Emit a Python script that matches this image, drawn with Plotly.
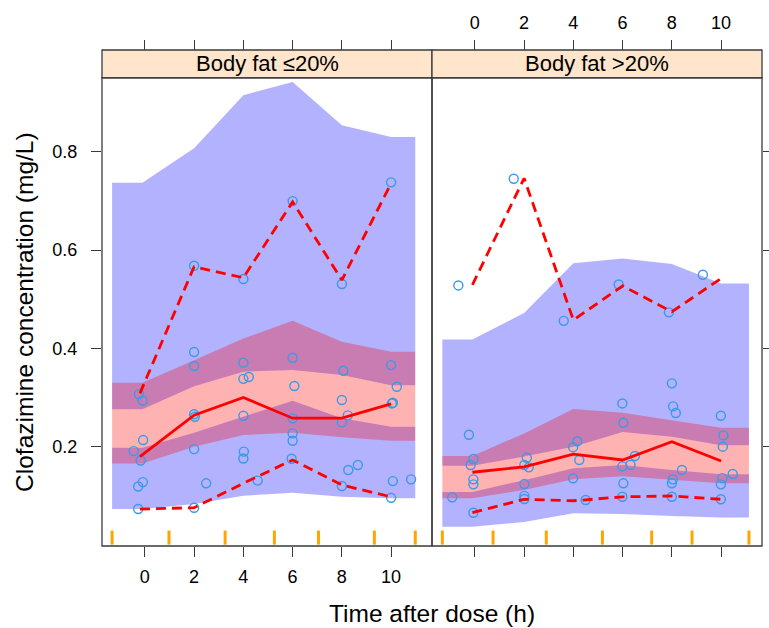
import plotly.graph_objects as go

# ---------------- data ----------------
panels = ["Body fat ≤20%", "Body fat >20%"]
x_ticks = [0, 2, 4, 6, 8, 10]
y_ticks = [0.2, 0.4, 0.6, 0.8]

# bin midpoints (band vertices) and bin edges (rug marks)
bin_mid = [-0.1, 2, 4, 6, 8, 10]
lean_edges = [-1.33, 0.98, 3.26, 5.26, 7.05, 9.32, 10.98]
fat_edges = [-1.32, 0.74, 2.90, 5.18, 7.18, 8.82, 11.13]

# simulated percentile confidence intervals, body fat <=20%
lean_p95_hi = [0.737, 0.807, 0.915, 0.942, 0.854, 0.830]
lean_p95_lo = [0.276, 0.323, 0.3525, 0.356, 0.346, 0.325]
lean_p50_hi = [0.330, 0.376, 0.420, 0.456, 0.4135, 0.393]
lean_p50_lo = [0.166, 0.200, 0.2237, 0.2284, 0.219, 0.212]
lean_p05_hi = [0.198, 0.2284, 0.261, 0.2935, 0.2577, 0.2406]
lean_p05_lo = [0.0732, 0.0834, 0.1003, 0.1064, 0.0983, 0.095]

# simulated percentile confidence intervals, body fat >20%
fat_p95_hi = [0.418, 0.472, 0.573, 0.583, 0.5715, 0.532]
fat_p95_lo = [0.161, 0.180, 0.200, 0.230, 0.220, 0.203]
fat_p50_hi = [0.181, 0.227, 0.2766, 0.269, 0.254, 0.2386]
fat_p50_lo = [0.095, 0.112, 0.134, 0.140, 0.132, 0.1255]
fat_p05_hi = [0.108, 0.132, 0.156, 0.163, 0.1525, 0.144]
fat_p05_lo = [0.037, 0.047, 0.0645, 0.063, 0.059, 0.056]

# observed percentiles
obs_t_lean = [-0.2, 2, 4, 6, 8, 10]
lean_obs_p95 = [0.3085, 0.566, 0.5437, 0.698, 0.539, 0.7356]
lean_obs_p50 = [0.180, 0.264, 0.300, 0.258, 0.258, 0.287]
lean_obs_p05 = [0.0732, 0.0759, 0.1255, 0.173, 0.122, 0.098]
obs_t_fat = [-0.1, 2, 4, 6, 8, 10]
fat_obs_p95 = [0.529, 0.746, 0.4576, 0.527, 0.4745, 0.5424]
fat_obs_p50 = [0.148, 0.159, 0.185, 0.173, 0.210, 0.171]
fat_obs_p05 = [0.0657, 0.093, 0.090, 0.098, 0.0997, 0.093]

# observed concentrations
lean_time = [-0.24, -0.09, -0.07, -0.45, -0.17, -0.27, -0.08, -0.27,
             2.0, 2.0, 2.0, 2.03, 2.0, 2.49, 2.0, 2.0,
             4.0, 4.0, 4.22, 4.0, 4.02, 4.0, 4.58, 4.0,
             6.0, 6.07, 6.0, 6.0, 6.0, 5.96, 6.0,
             8.06, 8.0, 8.24, 8.0, 8.26, 8.65, 8.0, 8.0,
             10.0, 10.23, 10.03, 10.07, 10.07, 10.0, 10.81, 10.0]
lean_conc = [0.307, 0.294, 0.2135, 0.191, 0.172, 0.119, 0.128, 0.0732,
             0.3925, 0.364, 0.266, 0.261, 0.195, 0.1255, 0.0759, 0.568,
             0.371, 0.338, 0.3417, 0.263, 0.19, 0.176, 0.131, 0.541,
             0.381, 0.3234, 0.2577, 0.227, 0.212, 0.1755, 0.6996,
             0.3545, 0.295, 0.2638, 0.2495, 0.1525, 0.1627, 0.12, 0.531,
             0.366, 0.322, 0.288, 0.2894, 0.130, 0.096, 0.1336, 0.7377]
fat_time = [-0.24, -0.06, -0.17, -0.06, -0.06, -0.92, -0.06, -0.67,
            2.11, 2.01, 2.19, 2.01, 2.01, 2.01, 1.58,
            4.5, 3.99, 4.16, 4.24, 3.99, 3.61,
            5.99, 6.03, 6.5, 6.32, 5.99, 6.03, 5.99, 5.84,
            8.0, 8.05, 8.16, 8.41, 8.04, 8.0, 8.0, 7.88,
            9.99, 10.09, 10.07, 10.05, 9.99, 10.47, 9.99, 9.26]
fat_conc = [0.2243, 0.175, 0.1627, 0.1336, 0.1234, 0.097, 0.0657, 0.528,
            0.1775, 0.1627, 0.158, 0.124, 0.100, 0.0936, 0.745,
            0.0915, 0.199, 0.211, 0.173, 0.1357, 0.456,
            0.288, 0.2487, 0.181, 0.1633, 0.160, 0.1255, 0.0982, 0.530,
            0.3289, 0.282, 0.2685, 0.1525, 0.1336, 0.1255, 0.0982, 0.4733,
            0.263, 0.223, 0.200, 0.136, 0.1234, 0.1444, 0.093, 0.5497]

# ---------------- styling ----------------
FONT = "Liberation Sans, Arial, sans-serif"
BLUE_FILL = "rgba(0,0,255,0.3)"
RED_FILL = "rgba(255,0,0,0.3)"
PT_COL = "#3A9AE8"
FRAME = "#3a3a3a"
X_RANGE = [-1.74, 11.66]
Y_RANGE = [-0.002, 0.9504]
Y_TOP = 0.944

fig = go.Figure()


def band(edges, lo, hi, color, xa, ya):
    bx = [edges[0]] + bin_mid + [edges[-1]]
    up = [hi[0]] + hi + [hi[-1]]
    dn = [lo[0]] + lo + [lo[-1]]
    fig.add_trace(go.Scatter(x=bx + bx[::-1], y=up + dn[::-1], fill="toself",
                             fillcolor=color, mode="lines", line=dict(width=0),
                             hoverinfo="skip", showlegend=False, xaxis=xa, yaxis=ya))


panel_data = [
    ("x", "y", lean_edges, (lean_p05_lo, lean_p05_hi), (lean_p95_lo, lean_p95_hi),
     (lean_p50_lo, lean_p50_hi), lean_time, lean_conc, obs_t_lean,
     (lean_obs_p05, lean_obs_p50, lean_obs_p95)),
    ("x2", "y2", fat_edges, (fat_p05_lo, fat_p05_hi), (fat_p95_lo, fat_p95_hi),
     (fat_p50_lo, fat_p50_hi), fat_time, fat_conc, obs_t_fat,
     (fat_obs_p05, fat_obs_p50, fat_obs_p95)),
]

for xa, ya, edges, p05, p95, p50, tt, cc, ot, obs in panel_data:
    band(edges, p05[0], p05[1], BLUE_FILL, xa, ya)
    band(edges, p95[0], p95[1], BLUE_FILL, xa, ya)
    band(edges, p50[0], p50[1], RED_FILL, xa, ya)
    fig.add_trace(go.Scatter(x=tt, y=cc, mode="markers",
                             marker=dict(symbol="circle-open", size=9, color=PT_COL,
                                         line=dict(width=1.4, color=PT_COL)),
                             showlegend=False, xaxis=xa, yaxis=ya))
    fig.add_trace(go.Scatter(x=ot, y=obs[1], mode="lines",
                             line=dict(color="#FF0000", width=2.8),
                             showlegend=False, xaxis=xa, yaxis=ya))
    for o in (obs[0], obs[2]):
        fig.add_trace(go.Scatter(x=ot, y=o, mode="lines",
                                 line=dict(color="#FF0000", width=2.8, dash="10px,6px"),
                                 showlegend=False, xaxis=xa, yaxis=ya))
    for e in edges:
        fig.add_shape(type="line", xref=xa, yref=ya + " domain", x0=e, x1=e,
                      y0=0.003, y1=0.033, line=dict(color="#FFA500", width=3))

# invisible traces so that the top tick axes are drawn
for xa, ya in [("x3", "y"), ("x4", "y2")]:
    fig.add_trace(go.Scatter(x=[None], y=[None], mode="markers", xaxis=xa, yaxis=ya,
                             showlegend=False, hoverinfo="skip"))

# frames and strips
for i, (xa, ya) in enumerate([("x", "y"), ("x2", "y2")]):
    fig.add_shape(type="rect", xref=xa + " domain", yref=ya + " domain",
                  x0=0, x1=1, y0=0, y1=1, line=dict(color=FRAME, width=1.3),
                  fillcolor="rgba(0,0,0,0)")
    x0 = 0.5 * i
    fig.add_shape(type="rect", xref="paper", yref="paper", x0=x0, x1=x0 + 0.5,
                  y0=Y_TOP, y1=1.0, line=dict(color=FRAME, width=1.3),
                  fillcolor="#FFE5CC", layer="below")
    fig.add_annotation(text=panels[i], xref="paper", yref="paper",
                       x=x0 + 0.25, y=(Y_TOP + 1.0) / 2, showarrow=False,
                       xanchor="center", yanchor="middle",
                       font=dict(family=FONT, size=22, color="black"))

tick_font = dict(family=FONT, size=18, color="black")
common_x = dict(range=X_RANGE, tickvals=x_ticks, ticktext=[str(v) for v in x_ticks],
                ticks="outside", ticklen=10, tickwidth=1.3, tickcolor=FRAME,
                showgrid=False, zeroline=False, tickfont=tick_font, automargin=False)
common_y = dict(range=Y_RANGE, tickvals=y_ticks, ticktext=[str(v) for v in y_ticks],
                ticks="outside", ticklen=10, tickwidth=1.3, tickcolor=FRAME,
                showgrid=False, zeroline=False, tickfont=tick_font, domain=[0, Y_TOP],
                automargin=False)

fig.update_layout(
    width=769, height=628,
    margin=dict(l=102, r=7, t=50, b=82, autoexpand=False),
    plot_bgcolor="white", paper_bgcolor="white",
    font=dict(family=FONT, color="black"),
    xaxis=dict(domain=[0, 0.5], anchor="y", showticklabels=True, ticklabelstandoff=4, **common_x),
    xaxis2=dict(domain=[0.5, 1.0], anchor="y2", showticklabels=False, **common_x),
    xaxis3=dict(overlaying="x", side="top", anchor="free", position=1.0,
                showticklabels=False, **common_x),
    xaxis4=dict(overlaying="x2", side="top", anchor="free", position=1.0,
                showticklabels=True, ticklabelstandoff=4, **common_x),
    yaxis=dict(anchor="x", side="left", showticklabels=True, ticklabelstandoff=10, **common_y),
    yaxis2=dict(anchor="x2", side="right", showticklabels=False, matches="y", **common_y),
)

fig.add_annotation(text="Clofazimine concentration (mg/L)", xref="paper", yref="paper",
                   x=(25 - 102) / 660, y=Y_TOP / 2, textangle=-90, showarrow=False,
                   xanchor="center", yanchor="middle",
                   font=dict(family=FONT, size=24.5, color="black"))
fig.add_annotation(text="Time after dose (h)", xref="paper", yref="paper",
                   x=0.5, y=(546 - 613) / 496, showarrow=False,
                   xanchor="center", yanchor="middle",
                   font=dict(family=FONT, size=24.5, color="black"))

fig.write_html("out.html")
